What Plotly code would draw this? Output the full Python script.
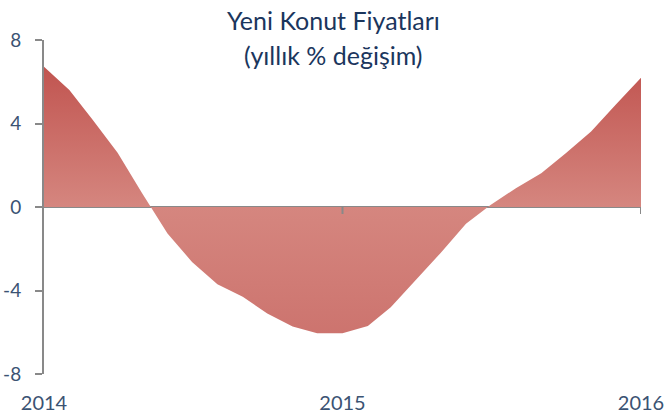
import plotly.graph_objects as go
import pandas as pd

months = pd.date_range("2014-01-01", "2016-01-01", freq="MS").strftime("%Y-%m-%d").tolist()
values = [6.72, 5.6, 4.2, 2.6, 0.66, -1.27, -2.63, -3.7, -4.3, -5.1, -5.73, -6.05, -6.05,
          -5.7, -4.8, -3.5, -2.2, -0.8, 0.1, 0.9, 1.62, 2.58, 3.62, 4.9, 6.19]
x_ticks = ["2014-01-01", "2015-01-01", "2016-01-01"]
x_tick_labels = ["2014", "2015", "2016"]
y_ticks = [-8, -4, 0, 4, 8]
y_tick_labels = ["-8", "-4", "0", "4", "8"]
title_line1 = "Yeni Konut Fiyatları"
title_line2 = "(yıllık % değişim)"

AXIS = "#898989"
TEXT = "#3B5373"
TITLE = "#1B365D"

fig = go.Figure()
fig.add_trace(go.Scatter(
    x=months, y=values, mode="lines", fill="tozeroy",
    line=dict(width=0, color="rgba(0,0,0,0)"),
    fillgradient=dict(type="vertical", start=-8, stop=8,
                      colorscale=[[0, "#CA6E69"], [0.5, "#D5867F"], [1, "#BD4B47"]]),
    hoverinfo="skip", showlegend=False,
))

# small tick marks on the zero line
for t in x_ticks[1:]:
    fig.add_shape(type="line", xref="x", yref="y", x0=t, x1=t, y0=0, y1=-7,
                  ysizemode="pixel", yanchor=0,
                  line=dict(color=AXIS, width=2))

fig.add_annotation(text=title_line1, xref="paper", yref="paper", x=0.485, y=1.06,
                   xanchor="center", yanchor="middle", showarrow=False,
                   font=dict(family="Lato", size=25, color=TITLE))
fig.add_annotation(text=title_line2, xref="paper", yref="paper", x=0.485, y=0.955,
                   xanchor="center", yanchor="middle", showarrow=False,
                   font=dict(family="Lato", size=25, color=TITLE))

fig.update_layout(
    width=667, height=414,
    margin=dict(l=44, r=26, t=40, b=40, autoexpand=False),
    paper_bgcolor="white", plot_bgcolor="white",
    font=dict(family="Lato", color=TEXT),
    xaxis=dict(
        type="date", range=[months[0], months[-1]], automargin=False,
        tickvals=x_ticks, ticktext=x_tick_labels,
        showgrid=False, zeroline=False, showline=False, ticks="",
        tickfont=dict(size=20, color=TEXT), ticklabelstandoff=15,
    ),
    yaxis=dict(
        range=[-8, 8], tickvals=y_ticks, ticktext=y_tick_labels, automargin=False,
        showgrid=False,
        zeroline=True, zerolinecolor=AXIS, zerolinewidth=2,
        showline=True, linecolor=AXIS, linewidth=2,
        ticks="outside", ticklen=7, tickcolor=AXIS, tickwidth=2,
        tickfont=dict(size=19, color=TEXT), ticklabelstandoff=10,
    ),
)

fig.write_html("out.html", config={"displayModeBar": False},
               post_script="document.body.style.margin='0';document.body.style.overflow='hidden';")
